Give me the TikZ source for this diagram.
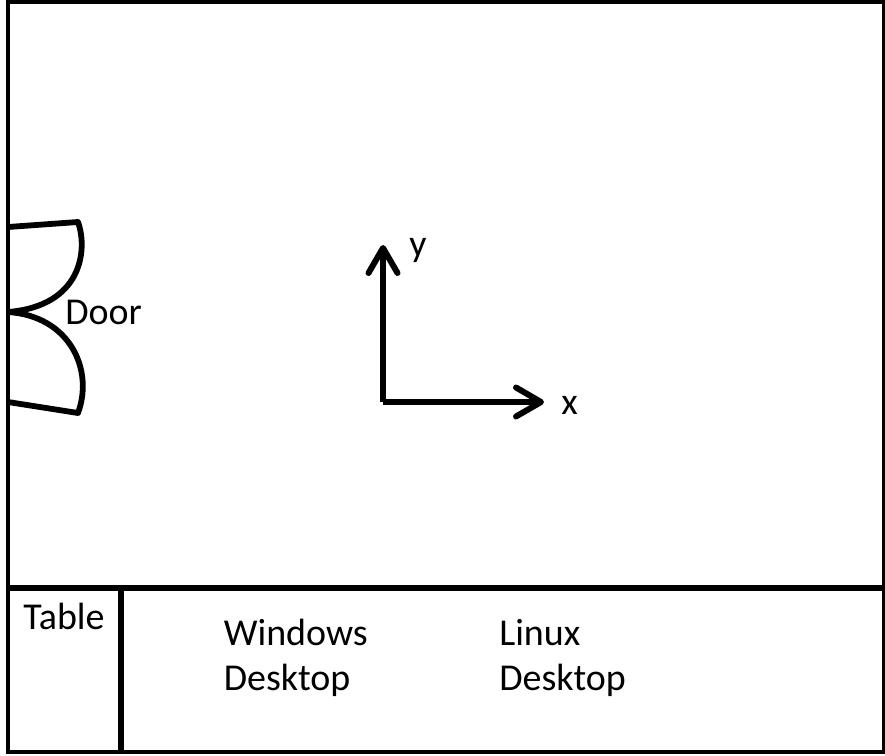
\documentclass[tikz,border=0pt]{standalone}
\usepackage{fontspec}
\setmainfont{Carlito}
\usetikzlibrary{arrows.meta,positioning,calc}

\begin{document}
\begin{tikzpicture}[
  x=0.02cm, y=-0.02cm,
  font=\fontsize{21.6}{26}\selectfont,
  wall/.style={line width=2.4pt, draw=black},
  divider/.style={line width=3.1pt, draw=black},
  leaf/.style={line width=3.3pt, draw=black, line join=round},
  axis/.style={-{Straight Barb[round, length=5mm, width=5.8mm, line width=3.4pt]}, line width=3.4pt, draw=black},
  lbl/.style={anchor=west, inner sep=0pt, align=left, text=black}
]
\useasboundingbox (0,0) rectangle (885,755);
% room
\draw[wall] (8,2) rectangle (884,752);
\draw[divider] (8,588) -- (884,588);
\draw[divider] (121,588) -- (121,752);
% door
\draw[leaf] (8,227) -- (78,222) .. controls (88,250) and (82,306) .. (8,312);
\draw[leaf] (8,312) .. controls (70,316) and (94,370) .. (78,413) -- (8,402);
\node[lbl] (door) at (65,312) {Door};
% axes
\coordinate (origin) at (383,402);
\coordinate (ytip) at (383,245);
\coordinate (xtip) at (544,402);
\draw[axis] (origin) -- (ytip);
\draw[axis] (origin) -- (xtip);
\node[lbl] (ylabel) at (409,250) {y};
\node[lbl] (xlabel) at (561,405) {x};
% bottom row
\node[lbl] (table) at (23,616) {Table};
\node[lbl] (windows) at (223.5,658) {Windows\\Desktop};
\node[lbl] (linux) at (499,658) {Linux\\Desktop};
\end{tikzpicture}
\end{document}
